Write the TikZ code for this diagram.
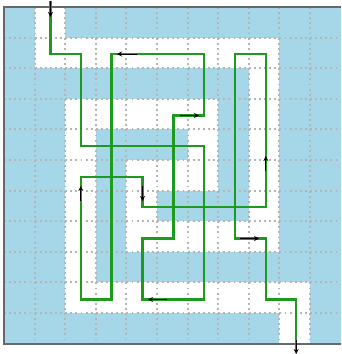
\documentclass[tikz,border=0pt]{standalone}
\usetikzlibrary{arrows.meta}
\definecolor{wallblue}{HTML}{A5D7E8}
\definecolor{pathgreen}{HTML}{1E9A1E}
\definecolor{framegray}{HTML}{686868}
\definecolor{dotgray}{HTML}{B4B4B4}
\tikzset{
  griddot/.style={draw=dotgray, line width=1.9pt, dash pattern=on 1.9pt off 3.2pt},
  solpath/.style={draw=pathgreen, line width=2.5pt, line join=miter},
  dirarrow/.style={draw=black, line width=0.9pt, -{Stealth[length=5pt,width=5pt]}},
  frameline/.style={draw=framegray, line width=1.8pt}
}
\begin{document}
\begin{tikzpicture}[x=1pt,y=-1pt]
\useasboundingbox (0,0) rectangle (341,354);
\def\s{30.6}
\fill[white] (0,0) rectangle (341,354);
% walls: whole grid blue
\fill[wallblue] (4,7) rectangle (340.6,343.6);
% white corridor runs: c1/c2/r
\foreach \a/\b/\r in {1/1/0, 1/8/1, 8/8/2, 2/6/3, 8/8/3, 2/2/4, 6/6/4, 8/8/4,
  2/2/5, 4/6/5, 8/8/5, 2/2/6, 4/4/6, 8/8/6, 2/2/7, 4/8/7, 2/2/8, 2/9/9, 9/9/10}
  \fill[white] ({4+\a*\s},{7+\r*\s}) rectangle ({4+(\b+1)*\s},{7+(\r+1)*\s});
% dotted grid
\foreach \k in {1,...,10} {
  \draw[griddot] ({4+\k*\s},7) -- ({4+\k*\s},343.6);
  \draw[griddot] (4,{7+\k*\s}) -- (340.6,{7+\k*\s});
}
% frame
\draw[frameline] (341,7) -- (4,7) -- (4,343.6) -- (341,343.6);
% solution path
\draw[solpath] (50.5,1) -- (50.5,54) -- (80.8,54) -- (80.8,146) -- (204,146)
  -- (204,299.5) -- (142.5,299.5) -- (142.5,238.5) -- (173.3,238.5)
  -- (173.3,115.5) -- (204,115.5) -- (204,54) -- (111.6,54) -- (111.6,299.5)
  -- (80.8,299.5) -- (80.8,177) -- (142.5,177) -- (142.5,207) -- (265.8,207)
  -- (265.8,54) -- (234.8,54) -- (234.8,238.5) -- (265.8,238.5)
  -- (265.8,299.5) -- (296.2,299.5) -- (296.2,351);
% direction arrows
\draw[dirarrow] (50.5,1) -- (50.5,17);
\draw[dirarrow] (137,54) -- (117,54);
\draw[dirarrow] (180,115.5) -- (199,115.5);
\draw[dirarrow] (265.8,171) -- (265.8,156);
\draw[dirarrow] (80.8,201) -- (80.8,186);
\draw[dirarrow] (142.5,186) -- (142.5,201);
\draw[dirarrow] (240,238.5) -- (259,238.5);
\draw[dirarrow] (167,299.5) -- (148,299.5);
\draw[dirarrow] (296.2,340) -- (296.2,354);
\end{tikzpicture}
\end{document}
